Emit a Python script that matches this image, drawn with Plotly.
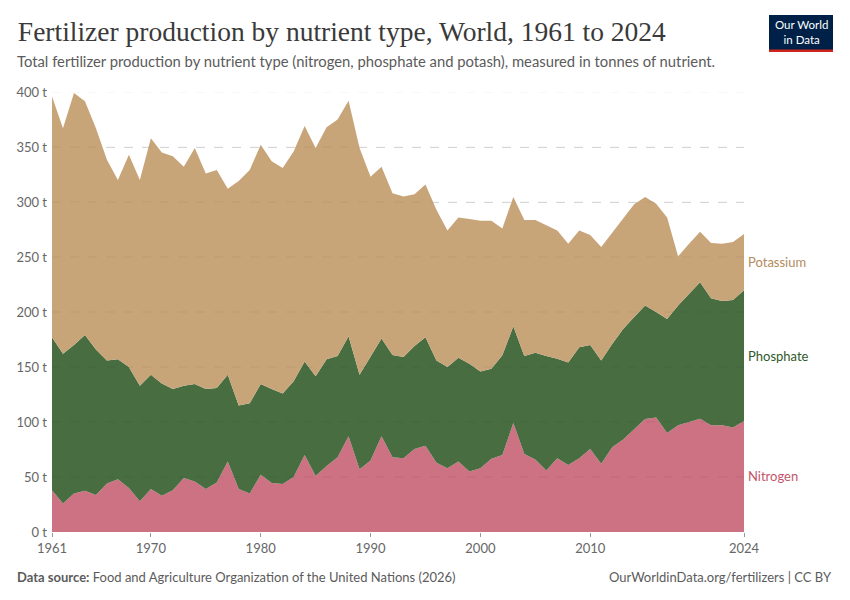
import plotly.graph_objects as go

years = list(range(1961, 2025))

nitrogen = [38, 26, 35, 37.5, 33.6, 44, 48, 40, 28, 39,
            33, 38, 49, 46, 39, 45, 64, 39, 35, 52,
            44.5, 43.6, 50, 70, 51, 60, 68, 87, 57, 65,
            87, 68, 67, 75.5, 78.5, 63, 58, 64, 55, 58,
            66.7, 70, 99, 71, 66, 56, 67, 61, 67, 75.5,
            62, 77, 84, 93.6, 102.7, 104, 90, 97, 100, 103,
            97, 97, 95, 101]

phosphate = [139, 136, 135, 141.5, 132.4, 112, 109, 110, 105, 104,
             102, 92, 84, 88.5, 91, 86, 79, 76, 82, 82.5,
             85.5, 82.4, 87, 85, 90.5, 97, 92, 91, 86, 95,
             89, 93, 92, 93.5, 98.5, 93, 92, 94.5, 98, 88,
             81.8, 90.6, 88, 89, 97, 104, 90.6, 93, 101, 94.5,
             94, 94, 100.5, 101.9, 103.3, 96, 103.6, 109, 116.7, 124,
             115.4, 113, 116, 118.7]

potassium = [219, 205, 229, 212.5, 201, 182.5, 163, 193, 187, 215,
             210, 211.5, 199, 214.5, 196, 198, 169, 204, 212, 217.5,
             207, 205, 209, 214, 207.5, 211, 215, 214, 206, 163,
             156, 147, 146, 138, 139, 137, 124, 127.5, 131.5, 137,
             134.5, 115.4, 117.5, 123.6, 120.6, 119, 116.4, 108, 106, 100,
             103, 101, 101, 102.5, 98.5, 98.5, 92.4, 44.6, 45.3, 46,
             50.3, 52, 52.6, 51.3]

series_names = ["Nitrogen", "Phosphate", "Potassium"]
fill_colors = ["#cc7282", "#486d41", "#c8a479"]
label_colors = ["#c4566b", "#2f5a28", "#b38b5c"]

x_ticks = [1961, 1970, 1980, 1990, 2000, 2010, 2024]
y_ticks = [0, 50, 100, 150, 200, 250, 300, 350, 400]

fig = go.Figure()
all_series = [nitrogen, phosphate, potassium]
for name, vals, fc in zip(series_names, all_series, fill_colors):
    fig.add_trace(go.Scatter(
        x=years, y=vals, name=name, mode="lines",
        stackgroup="one", line=dict(width=0, color=fc),
        fillcolor=fc, showlegend=False,
        hovertemplate="%{y:.1f} t<extra>" + name + "</extra>",
    ))

# Right-side labels at the middle of each band in the last year
base = 0
for name, vals, lc in zip(series_names, all_series, label_colors):
    mid = base + vals[-1] / 2
    base += vals[-1]
    fig.add_annotation(x=years[-1], y=mid, text=name, showarrow=False,
                       xanchor="left", yanchor="middle", xshift=2,
                       font=dict(family="Lato", size=13, color=lc))

# Faint dashed gridlines drawn above the areas
for v in y_ticks[1:]:
    fig.add_shape(type="line", xref="x", yref="y", x0=years[0], x1=years[-1],
                  y0=v, y1=v, layer="above",
                  line=dict(color="rgba(0,0,0,0.06)", width=1, dash="dash"))

fig.update_layout(
    width=850, height=600,
    margin=dict(l=52, r=106, t=92, b=68),
    paper_bgcolor="white", plot_bgcolor="white",
    font=dict(family="Lato", color="#666666"),
    title=dict(
        text="Fertilizer production by nutrient type, World, 1961 to 2024",
        x=0.021, xanchor="left", y=0.947, yanchor="middle",
        font=dict(family="Liberation Serif", size=27.5, color="#3a3a3a"),
    ),
    xaxis=dict(
        range=[1961, 2024], tickvals=x_ticks, ticktext=[str(t) for t in x_ticks],
        showgrid=False, zeroline=False, ticks="outside", ticklen=4,
        tickcolor="#999999", showline=False,
        tickfont=dict(family="Lato", size=13, color="#666666"),
    ),
    yaxis=dict(
        range=[0, 400], tickvals=y_ticks, ticktext=[f"{v} t" for v in y_ticks],
        showgrid=True, gridcolor="#dddddd", griddash="dash", gridwidth=1,
        zeroline=False, showline=False, ticks="", ticklabelstandoff=4,
        tickfont=dict(family="Lato", size=13, color="#666666"),
    ),
)

fig.add_annotation(
    xref="paper", yref="paper", x=-0.0535, y=(532 - 61) / 440, xanchor="left", yanchor="middle",
    text="Total fertilizer production by nutrient type (nitrogen, phosphate and potash), measured in tonnes of nutrient.",
    showarrow=False, font=dict(family="Lato", size=14.8, color="#5b5b5b"),
)

fig.add_annotation(
    xref="paper", yref="paper", x=-0.0535, y=(532 - 577) / 440, xanchor="left", yanchor="middle",
    text="<b>Data source:</b> Food and Agriculture Organization of the United Nations (2026)",
    showarrow=False, font=dict(family="Lato", size=13, color="#5b5b5b"),
)
fig.add_annotation(
    xref="paper", yref="paper", x=(834 - 52) / 692, y=(532 - 577) / 440, xanchor="right", yanchor="middle",
    text="OurWorldinData.org/fertilizers | CC BY",
    showarrow=False, font=dict(family="Lato", size=13, color="#5b5b5b"),
)

# Logo
fig.add_shape(type="rect", xref="paper", yref="paper",
              x0=(769 - 52) / 692, x1=(833 - 52) / 692,
              y0=(532 - 52) / 440, y1=(532 - 15) / 440,
              fillcolor="#002147", line=dict(width=0), layer="above")
fig.add_shape(type="rect", xref="paper", yref="paper",
              x0=(769 - 52) / 692, x1=(833 - 52) / 692,
              y0=(532 - 52) / 440, y1=(532 - 49.5) / 440,
              fillcolor="#ce261e", line=dict(width=0), layer="above")
fig.add_annotation(xref="paper", yref="paper",
                   x=(801 - 52) / 692, y=(532 - 32) / 440,
                   text="Our World<br>in Data", showarrow=False,
                   xanchor="center", yanchor="middle",
                   font=dict(family="Lato", size=11.5, color="white"))

fig.write_html("out.html", config={"displayModeBar": False},
               post_script="document.body.style.margin='0';")
